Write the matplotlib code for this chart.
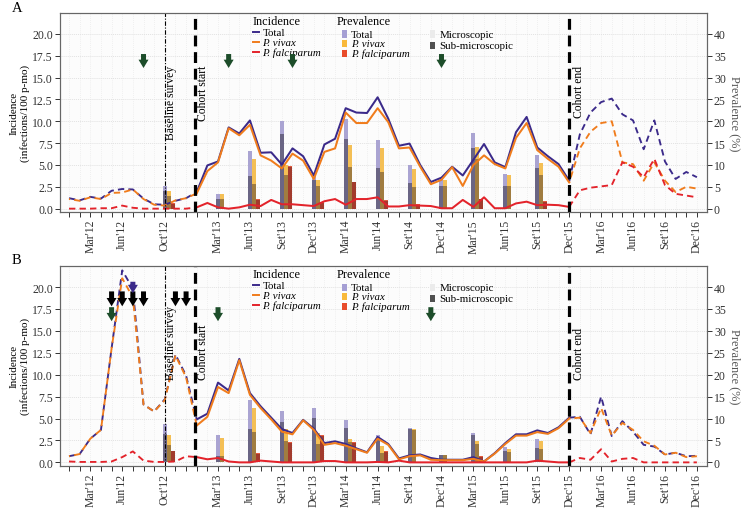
import numpy as np
import matplotlib
matplotlib.use('Agg')
import matplotlib.pyplot as plt
from matplotlib.patches import Rectangle
from matplotlib.lines import Line2D

plt.rcParams['font.family'] = ['Liberation Serif', 'DejaVu Serif']

# months: 0 = Jan'12 ... 59 = Dec'16
months = np.arange(60)
label_pos = [2, 5, 9, 14, 17, 20, 23, 26, 29, 32, 35, 38, 41, 44, 47, 50, 53, 56, 59]
label_txt = ["Mar'12", "Jun'12", "Oct'12", "Mar'13", "Jun'13", "Set'13", "Dec'13",
             "Mar'14", "Jun'14", "Set'14", "Dec'14", "Mar'15", "Jun'15", "Set'15",
             "Dec'15", "Mar'16", "Jun'16", "Set'16", "Dec'16"]
baseline_m = 9
cohort_start_m = 11.8
cohort_end_m = 47
seg_start, seg_end = 12, 47
survey_m = [9, 14, 17, 20, 23, 26, 29, 32, 35, 38, 41, 44]

# ---- panel A: incidence (infections/100 p-mo)
a_total = [1.2, 0.95, 1.35, 1.15, 2.05, 2.25, 2.2, 1.15, 0.5, 0.45, 0.9, 1.2, 1.9,
           4.95, 5.4, 9.3, 8.6, 10.1, 6.4, 6.45, 5.05, 6.9, 6.0, 3.8, 7.35, 8.0, 11.5, 11.0, 10.95, 12.75,
           10.3, 7.2, 7.45, 5.0, 3.05, 3.55, 4.8, 3.8, 5.6, 7.4, 5.3, 4.75, 8.75, 10.5, 7.0, 6.0, 5.1, 3.2,
           8.5, 11.0, 12.2, 12.6, 10.8, 10.1, 6.8, 10.1, 5.4, 3.4, 4.2, 3.6]
a_vivax = [1.1, 0.9, 1.3, 1.1, 1.8, 1.85, 2.2, 1.1, 0.45, 0.35, 0.95, 1.2, 1.75,
           4.3, 5.3, 9.2, 8.4, 9.6, 6.1, 5.5, 4.6, 6.3, 5.5, 3.4, 6.5, 6.9, 11.0, 9.8, 9.8, 11.5,
           9.9, 6.9, 7.0, 4.8, 2.8, 3.3, 4.75, 2.6, 5.0, 6.1, 5.1, 4.6, 8.1, 9.8, 6.7, 5.7, 4.8, 3.0,
           6.9, 8.8, 9.8, 10.0, 5.3, 5.1, 3.2, 5.3, 3.2, 1.9, 2.5, 2.3]
a_falc = [0.0, 0.0, 0.0, 0.05, 0.05, 0.35, 0.1, 0.0, 0.0, 0.0, 0.0, 0.0, 0.15,
          0.65, 0.15, 0.0, 0.15, 0.45, 0.3, 1.0, 0.5, 0.5, 0.4, 0.3, 0.85, 1.1, 0.45, 1.1, 1.1, 1.3,
          0.25, 0.25, 0.4, 0.35, 0.3, 0.05, 0.05, 1.0, 0.2, 1.3, 0.05, 0.05, 0.6, 0.8, 0.4, 0.45, 0.4, 0.2,
          2.1, 2.4, 2.55, 2.7, 5.3, 4.8, 3.6, 5.7, 2.7, 1.7, 1.5, 1.3]
# prevalence (%) at survey months
a_prev_total = [5.1, 3.4, 13.3, 20.0, 7.6, 20.6, 15.7, 10.1, 6.9, 17.4, 8.0, 12.3]
a_sub_total = [4.0, 2.1, 7.5, 17.1, 6.5, 15.9, 9.2, 5.8, 5.2, 13.9, 5.3, 9.3]
a_prev_vivax = [4.0, 3.4, 11.3, 9.9, 6.5, 14.5, 13.8, 9.0, 6.5, 14.1, 7.8, 10.5]
a_sub_vivax = [2.8, 2.1, 5.6, 7.6, 5.3, 9.6, 8.5, 5.0, 5.1, 11.4, 5.3, 7.6]
a_prev_falc = [1.3, 0.0, 2.3, 9.8, 1.5, 6.2, 2.0, 1.1, 0.0, 2.3, 0.0, 1.7]
a_sub_falc = [1.1, 0.0, 2.0, 9.6, 1.3, 6.0, 1.8, 0.9, 0.0, 2.1, 0.0, 1.5]
a_green = [7, 15, 21, 35]

# ---- panel B
b_total = [0.7, 0.95, 2.7, 3.7, 13.0, 21.9, 19.8, 6.6, 5.8, 7.2, 12.3, 9.9, 4.9,
           5.55, 9.1, 8.2, 11.8, 7.9, 6.4, 5.1, 3.8, 3.35, 4.85, 3.85, 2.2, 2.4, 2.1, 1.6, 1.15, 2.9,
           2.1, 0.45, 0.8, 0.9, 0.5, 0.3, 0.3, 0.3, 0.6, 0.1, 1.05, 2.2, 3.2, 3.2, 3.65, 3.35, 4.0, 5.1,
           5.2, 3.2, 7.5, 3.0, 4.7, 3.5, 2.0, 1.8, 0.9, 1.1, 0.7, 0.75]
b_vivax = [0.7, 0.95, 2.7, 3.7, 13.0, 21.0, 18.8, 6.6, 5.8, 7.1, 12.2, 9.7, 4.2,
           5.2, 8.6, 7.9, 11.65, 7.7, 6.2, 4.9, 3.5, 3.2, 4.8, 3.7, 2.0, 2.2, 1.9, 1.5, 1.1, 2.7,
           2.0, 0.35, 0.7, 0.8, 0.3, 0.25, 0.25, 0.25, 0.4, 0.1, 1.0, 2.1, 3.05, 3.05, 3.45, 3.25, 3.9, 5.0,
           5.1, 3.35, 6.2, 3.05, 4.5, 3.7, 2.4, 1.9, 0.9, 1.1, 0.6, 0.7]
b_falc = [0.1, 0.05, 0.05, 0.05, 0.1, 0.6, 1.25, 0.2, 0.05, 0.05, 0.1, 0.7, 0.6,
          0.35, 0.5, 0.1, 0.0, 0.0, 0.2, 0.1, 0.0, 0.0, 0.0, 0.0, 0.15, 0.15, 0.0, 0.0, 0.0, 0.05,
          0.0, 0.2, 0.0, 0.0, 0.0, 0.0, 0.0, 0.0, 0.0, 0.0, 0.0, 0.0, 0.0, 0.0, 0.2, 0.1, 0.0, 0.0,
          0.5, 0.3, 1.5, 0.1, 0.4, 0.5, 0.0, 0.0, 0.0, 0.0, 0.0, 0.0]
b_prev_total = [8.8, 6.2, 14.3, 11.7, 12.3, 9.75, 6.3, 7.8, 1.75, 6.7, 3.4, 5.3]
b_sub_total = [6.4, 1.5, 7.5, 9.1, 10.1, 7.8, 5.2, 7.6, 1.65, 6.3, 2.5, 3.3]
b_prev_vivax = [6.2, 5.6, 12.3, 7.5, 6.7, 5.3, 3.8, 7.6, 1.7, 4.8, 3.05, 4.8]
b_sub_vivax = [4.0, 1.5, 6.9, 4.8, 4.3, 4.7, 2.1, 7.4, 1.6, 4.3, 2.3, 3.05]
b_prev_falc = [2.7, 0.0, 2.1, 4.6, 6.3, 4.6, 2.5, 0.0, 0.0, 1.4, 0.0, 0.3]
b_sub_falc = [2.5, 0.0, 2.0, 4.4, 6.1, 4.4, 2.4, 0.0, 0.0, 1.3, 0.0, 0.2]
b_green = [4, 14, 34]
b_black = [4, 5, 6, 7, 10, 11]
b_purple = [6]

C_TOT, C_VIV, C_FAL = '#3b2a8a', '#f07c1c', '#e3232b'
BAR_LIGHT = ['#aaa4d2', '#f4bf55', '#e35a3d']
BAR_DARK = ['#6a6584', '#a07c40', '#a23b2d']
GREEN = '#1d4d2a'


def arrow(ax, m, y_top, y_tip, color):
    ax.annotate('', xy=(m, y_tip), xytext=(m, y_top),
                arrowprops=dict(arrowstyle='simple,head_length=0.5,head_width=0.6,tail_width=0.3',
                                color=color, lw=0, shrinkA=0, shrinkB=0, mutation_scale=12),
                zorder=6)


def draw_key(ax):
    fs = 7.8
    # Incidence
    ax.text(0.298, 0.958, 'Incidence', transform=ax.transAxes, fontsize=8.8, va='center', ha='left')
    for y, c, lab in zip([0.903, 0.853, 0.803], [C_TOT, C_VIV, C_FAL],
                         ['Total', 'P. vivax', 'P. falciparum']):
        ax.add_line(Line2D([0.298, 0.307], [y, y], transform=ax.transAxes, color=c, lw=1.4))
        ax.text(0.3127, y, lab, transform=ax.transAxes, fontsize=fs, va='center',
                style='normal' if lab == 'Total' else 'italic')
    # Prevalence
    ax.text(0.4277, 0.958, 'Prevalence', transform=ax.transAxes, fontsize=8.8, va='center', ha='left')
    for y, c, lab in zip([0.894, 0.846, 0.797], ['#a59fd4', '#f9b93b', '#e84c2b'],
                         ['Total', 'P. vivax', 'P. falciparum']):
        ax.add_patch(Rectangle((0.4354, y - 0.018), 0.0077, 0.036, transform=ax.transAxes,
                               color=c, lw=0))
        ax.text(0.4498, y, lab, transform=ax.transAxes, fontsize=fs, va='center',
                style='normal' if lab == 'Total' else 'italic')
    for y, c, lab in zip([0.894, 0.836], ['#ebebeb', '#505050'], ['Microscopic', 'Sub-microscopic']):
        ax.add_patch(Rectangle((0.572, y - 0.018), 0.0072, 0.036, transform=ax.transAxes,
                               color=c, lw=0))
        ax.text(0.5862, y, lab, transform=ax.transAxes, fontsize=fs, va='center')


def draw_panel(ax, total, vivax, falc, prev, sub, letter, text_y, text_va):
    ax2 = ax.twinx()
    ax.set_zorder(ax2.get_zorder() + 1)
    ax.patch.set_visible(False)
    ax2.patch.set_visible(True)
    ax2.patch.set_facecolor('#fcfcfc')

    # prevalence bars (right axis)
    w = 0.375
    for k in range(3):
        xs = np.array(survey_m) + k * w
        ax2.bar(xs, sub[k], width=w, color=BAR_DARK[k], lw=0, zorder=2)
        ax2.bar(xs, np.array(prev[k]) - np.array(sub[k]), bottom=sub[k], width=w,
                color=BAR_LIGHT[k], lw=0, zorder=2)

    # incidence lines (dashed before cohort start and after cohort end)
    total, vivax, falc = map(np.array, (total, vivax, falc))
    for ser, c, off in ((total, C_TOT, 0), (vivax, C_VIV, 2.8), (falc, C_FAL, 0)):
        dash = (off, (3.4, 2.2))
        ax.plot(months[:seg_start + 1], ser[:seg_start + 1], color=c, lw=1.35, ls=dash)
        ax.plot(months[seg_start:seg_end + 1], ser[seg_start:seg_end + 1], color=c, lw=1.45)
        ax.plot(months[seg_end:], ser[seg_end:], color=c, lw=1.35, ls=dash)

    ax.axvline(baseline_m, color='black', lw=0.8, dashes=(4, 1.5, 1, 1.5))
    ax.axvline(cohort_start_m, color='black', lw=2.3, dashes=(3.4, 1.8))
    ax.axvline(cohort_end_m, color='black', lw=2.3, dashes=(3.4, 1.8))
    ax.text(baseline_m + 0.55, text_y, 'Baseline survey', rotation=90, fontsize=8.4,
            ha='center', va=text_va)
    ax.text(cohort_start_m + 0.8, text_y, 'Cohort start', rotation=90, fontsize=8.4,
            ha='center', va=text_va)
    ax.text(cohort_end_m + 0.9, text_y, 'Cohort end', rotation=90, fontsize=8.4,
            ha='center', va=text_va)

    ax.set_xlim(-0.85, 59.95)
    ax.set_ylim(-0.38, 22.4)
    ax2.set_ylim(-0.76, 44.8)
    ax.set_yticks(np.arange(0, 20.1, 2.5))
    ax.set_yticklabels([f'{v:.1f}' for v in np.arange(0, 20.1, 2.5)])
    ax2.set_yticks(np.arange(0, 41, 5))
    ax.set_xticks(months)
    ax.set_xticklabels([label_txt[label_pos.index(m)] if m in label_pos else '' for m in months],
                       rotation=90)

    # grid lives on the lower (bar) axes so that it stays behind the bars
    ax2.xaxis.set_visible(True)
    ax2.tick_params(axis='x', which='both', bottom=False, top=False,
                    labelbottom=False, labeltop=False)
    ax2.set_axisbelow(True)
    ax2.grid(axis='y', color='#e2e2e2', lw=0.7, ls=(0, (1, 1)))
    ax2.grid(axis='x', color='#ebebeb', lw=0.6, ls=(0, (1, 1.5)))

    for a in (ax, ax2):
        a.tick_params(axis='y', length=3.5, width=0.7, color='#333333',
                      labelsize=8.5, labelcolor='#333333', pad=1.5)
        for s in a.spines.values():
            s.set_color('#666666')
            s.set_linewidth(0.8)
    ax.tick_params(axis='x', length=3.5, width=0.7, color='#333333',
                   labelsize=8.5, labelcolor='#333333', pad=1.5)
    ax.set_ylabel('Incidence\n(infections/100 p-mo)', fontsize=8, labelpad=2, linespacing=1.1)
    ax2.set_ylabel('Prevalence (%)', fontsize=8.8, color='#555555', rotation=270, labelpad=11)
    ax.text(-0.075, 1.03, letter, transform=ax.transAxes, fontsize=10.5, va='center')
    draw_key(ax)
    return ax2


fig = plt.figure(figsize=(7.45, 5.10), dpi=100)
axA = fig.add_axes([0.0805, 0.5824, 0.8685, 0.3902])
axB = fig.add_axes([0.0805, 0.0849, 0.8685, 0.3916])

draw_panel(axA, a_total, a_vivax, a_falc,
           [a_prev_total, a_prev_vivax, a_prev_falc], [a_sub_total, a_sub_vivax, a_sub_falc],
           'A', 16.5, 'top')
draw_panel(axB, b_total, b_vivax, b_falc,
           [b_prev_total, b_prev_vivax, b_prev_falc], [b_sub_total, b_sub_vivax, b_sub_falc],
           'B', 9.5, 'bottom')

for m in a_green:
    arrow(axA, m, 17.7, 16.1, GREEN)
for m in b_green:
    arrow(axB, m, 17.7, 16.1, GREEN)
for m in b_black:
    arrow(axB, m, 19.5, 17.8, 'black')
for m in b_purple:
    arrow(axB, m, 20.6, 19.3, C_TOT)

fig.savefig('out.png', dpi=100)
